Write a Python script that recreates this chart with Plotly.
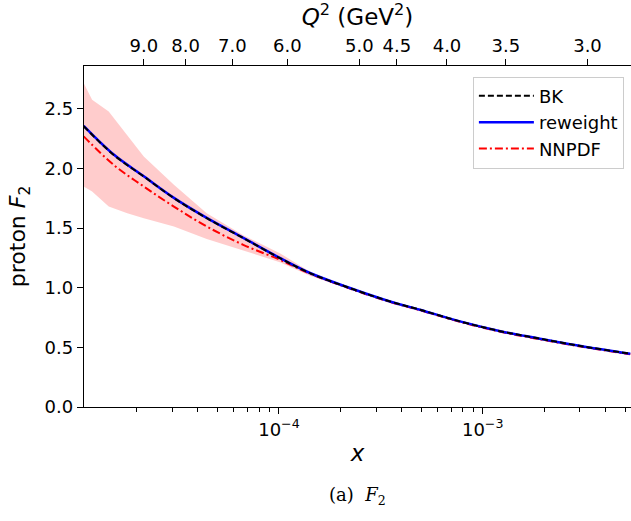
import plotly.graph_objects as go

# Bjorken x grid
x_vals = [1.10e-5, 1.55e-5, 2.17e-5, 3.05e-5, 4.42e-5, 6.68e-5, 1.01e-4, 1.42e-4,
          2.23e-4, 3.51e-4, 4.92e-4, 7.74e-4, 1.22e-3, 1.84e-3, 3.12e-3, 5.3e-3]
bk_f2 = [2.355, 2.112, 1.933, 1.752, 1.584, 1.417, 1.249, 1.123,
         0.997, 0.885, 0.816, 0.718, 0.636, 0.578, 0.508, 0.447]
reweight_f2 = [2.358, 2.115, 1.935, 1.754, 1.586, 1.418, 1.250, 1.124,
               0.998, 0.885, 0.816, 0.718, 0.636, 0.578, 0.508, 0.447]
reweight_err = [0.012, 0.011, 0.010, 0.009, 0.008, 0.007, 0.006, 0.006,
                0.005, 0.005, 0.005, 0.005, 0.005, 0.005, 0.005, 0.005]
nnpdf_f2 = [2.270, 2.028, 1.849, 1.681, 1.514, 1.360, 1.235, 1.118,
            0.993, 0.881, 0.812, 0.714, 0.631, 0.573, 0.503, 0.442]

# NNPDF uncertainty band (coarser grid)
band_x = [1.10e-5, 1.21e-5, 1.46e-5, 1.80e-5, 2.17e-5, 3.05e-5, 4.42e-5, 6.68e-5,
          1.01e-4, 1.42e-4, 2.23e-4, 3.51e-4, 7.74e-4, 1.84e-3, 5.3e-3]
band_hi = [2.716, 2.576, 2.478, 2.283, 2.100, 1.863, 1.625, 1.440,
           1.290, 1.135, 1.003, 0.890, 0.721, 0.580, 0.449]
band_lo = [1.849, 1.807, 1.681, 1.626, 1.584, 1.514, 1.410, 1.315,
           1.215, 1.100, 0.983, 0.872, 0.707, 0.566, 0.436]

# top axis: Q^2 labels and the x where they sit
q2_labels = ["9.0", "8.0", "7.0", "6.0", "5.0", "4.5", "4.0", "3.5", "3.0"]
q2_x = [2.17e-5, 3.48e-5, 5.90e-5, 1.10e-4, 2.48e-4, 3.79e-4, 6.68e-4, 1.30e-3, 3.27e-3]

x_major = [1e-4, 1e-3]
x_major_text = ["10<sup>−4</sup>", "10<sup>−3</sup>"]
x_minor = [m * 10 ** e for e in (-5, -4, -3) for m in range(2, 10) if 1.1e-5 < m * 10 ** e < 5.4e-3]

x_range = [-4.957, -2.272]
y_range = [0, 2.86]

font = "DejaVu Sans"
smooth = dict(shape="spline", smoothing=1.0)

fig = go.Figure()

fig.add_trace(go.Scatter(x=band_x, y=band_lo, mode="lines", line=dict(width=0),
                         showlegend=False, hoverinfo="skip"))
fig.add_trace(go.Scatter(x=band_x, y=band_hi, mode="lines", line=dict(width=0),
                         fill="tonexty", fillcolor="rgba(255,0,0,0.2)",
                         showlegend=False, hoverinfo="skip"))
fig.add_trace(go.Scatter(x=x_vals, y=nnpdf_f2, mode="lines", name="NNPDF",
                         line=dict(color="red", width=2, dash="8px,3px,2px,3px", **smooth)))

rw_lo = [v - e for v, e in zip(reweight_f2, reweight_err)]
rw_hi = [v + e for v, e in zip(reweight_f2, reweight_err)]
fig.add_trace(go.Scatter(x=x_vals, y=rw_lo, mode="lines", line=dict(width=0, **smooth),
                         showlegend=False, hoverinfo="skip"))
fig.add_trace(go.Scatter(x=x_vals, y=rw_hi, mode="lines", line=dict(width=0, **smooth),
                         fill="tonexty", fillcolor="rgba(0,0,255,0.2)",
                         showlegend=False, hoverinfo="skip"))
fig.add_trace(go.Scatter(x=x_vals, y=reweight_f2, mode="lines", name="reweight",
                         line=dict(color="blue", width=2.5, **smooth)))

fig.add_trace(go.Scatter(x=x_vals, y=bk_f2, mode="lines", name="BK",
                         line=dict(color="black", width=2, dash="6px,3px", **smooth)))

# dummy trace so the top axis gets drawn
fig.add_trace(go.Scatter(x=x_vals, y=bk_f2, xaxis="x2", mode="lines",
                         line=dict(width=0), opacity=0, showlegend=False, hoverinfo="skip"))

fig.update_layout(
    width=631, height=521,
    margin=dict(l=84, r=0, t=66, b=114),
    paper_bgcolor="white", plot_bgcolor="white",
    font=dict(family=font, size=18, color="black"),
    xaxis=dict(
        type="log", range=x_range, automargin=False,
        tickvals=x_major, ticktext=x_major_text,
        ticks="outside", ticklen=6, tickwidth=1.2, tickcolor="black",
        minor=dict(tickvals=x_minor, ticks="outside", ticklen=3.5, tickwidth=1, tickcolor="black"),
        showline=True, linecolor="black", linewidth=1.3, showgrid=False, zeroline=False,
        title=dict(text="<i>x</i>", font=dict(size=23), standoff=6),
    ),
    xaxis2=dict(
        type="log", range=x_range, overlaying="x", side="top", anchor="y", automargin=False,
        tickvals=q2_x, ticktext=q2_labels,
        ticks="outside", ticklen=6, tickwidth=1.2, tickcolor="black",
        showline=True, linecolor="black", linewidth=1.3, showgrid=False, zeroline=False,
        title=dict(text="<i>Q</i><sup>2</sup> (GeV<sup>2</sup>)", font=dict(size=23), standoff=4),
    ),
    yaxis=dict(
        range=y_range, tickvals=[0, 0.5, 1.0, 1.5, 2.0, 2.5], tickformat=".1f", automargin=False,
        ticks="outside", ticklen=6, tickwidth=1.2, tickcolor="black",
        showline=True, linecolor="black", linewidth=1.3, showgrid=False, zeroline=False,
        title=dict(text="proton <i>F</i><sub>2</sub>", font=dict(size=22), standoff=12),
    ),
    legend=dict(
        x=0.987, y=0.969, xanchor="right", yanchor="top",
        bgcolor="rgba(255,255,255,0.8)", bordercolor="#cccccc", borderwidth=1,
        font=dict(size=18), traceorder="reversed", itemwidth=55,
    ),
    annotations=[dict(
        text="(a)  <i>F</i><sub>2</sub>", xref="paper", yref="paper",
        x=0.5, y=-0.26, xanchor="center", yanchor="middle", showarrow=False,
        font=dict(family="DejaVu Serif", size=18),
    )],
)

# the page body has a default 8px margin; drop it so the figure sits at 0,0
fig.write_html("out.html", config={"displayModeBar": False},
               post_script="document.body.style.margin='0px';")
